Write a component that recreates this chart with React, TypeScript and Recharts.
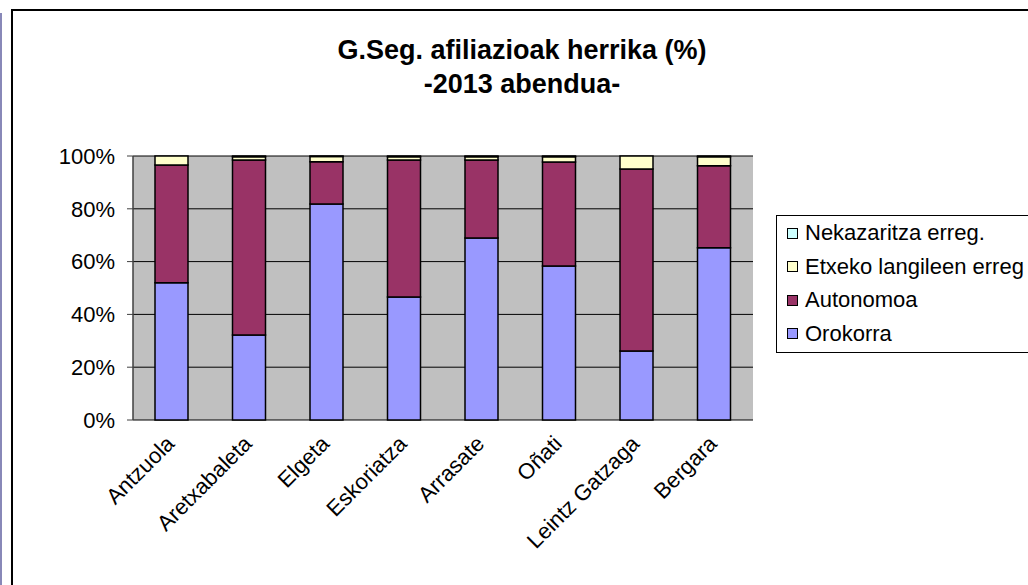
import { BarChart, Bar, XAxis, YAxis, CartesianGrid } from "recharts";

// herriak eta sektoreak (%), 2013 abendua
const herriak = ["Antzuola", "Aretxabaleta", "Elgeta", "Eskoriatza", "Arrasate", "Oñati", "Leintz Gatzaga", "Bergara"];
const orokorra = [52.0, 32.2, 81.8, 46.6, 68.9, 58.3, 26.1, 65.2];
const autonomoa = [44.6, 66.3, 16.0, 51.9, 29.6, 39.4, 69.0, 31.1];
const etxeko = [3.4, 1.2, 2.0, 1.2, 1.2, 2.0, 4.9, 3.4];
const nekazaritza = [0.0, 0.3, 0.2, 0.3, 0.3, 0.3, 0.0, 0.3];
const yTicks = [0, 0.2, 0.4, 0.6, 0.8, 1];
const edgeTicks = [0, 1, 2, 3, 4, 5, 6, 7, 8];

const series = [
  { key: "orokorra", name: "Orokorra", color: "#9999FF", values: orokorra },
  { key: "autonomoa", name: "Autonomoa", color: "#993366", values: autonomoa },
  { key: "etxeko", name: "Etxeko langileen erreg", color: "#FFFFCC", values: etxeko },
  { key: "nekazaritza", name: "Nekazaritza erreg.", color: "#CCFFFF", values: nekazaritza },
];

const data = herriak.map((herria, i) => {
  const row: Record<string, string | number> = { herria, idx: i + 0.5 };
  series.forEach((s) => (row[s.key] = s.values[i]));
  return row;
});

const FONT = '"Liberation Sans", Arial, sans-serif';

function HerriTick({ x, y, payload }: { x?: number; y?: number; payload?: { value: string } }) {
  return (
    <g transform={`translate(${(x ?? 0) + 4},${(y ?? 0) + 17})`}>
      <text textAnchor="end" transform="rotate(-45)" fontSize={22} fontFamily={FONT} fill="#000">
        {payload?.value}
      </text>
    </g>
  );
}

export default function App() {
  return (
    <div style={{ position: "absolute", left: 0, top: 0, width: 1028, height: 585, overflow: "hidden", background: "#fff", fontFamily: FONT }}>
      <div style={{ position: "absolute", left: 0, top: 13, width: 2, height: 600, background: "#8888B8" }} />
      <div style={{ position: "absolute", left: 11, top: 9, width: 1100, height: 700, border: "2px solid #000" }} />
      <div style={{ position: "absolute", left: 0, top: 33, width: 1044, textAlign: "center", fontWeight: "bold", fontSize: 27, lineHeight: "34px" }}>
        G.Seg. afiliazioak herrika (%)
        <br />
        -2013 abendua-
      </div>
      <div style={{ position: "absolute", left: 0, top: 0 }}>
        <BarChart
          width={1028}
          height={585}
          data={data}
          stackOffset="expand"
          barSize={33}
          margin={{ top: 156, right: 275, bottom: 65, left: 73 }}
        >
          <CartesianGrid vertical={false} fill="#C0C0C0" stroke="#000" horizontalValues={yTicks} />
          <XAxis xAxisId="edges" type="number" dataKey="idx" domain={[0, 8]} ticks={edgeTicks} height={0}
            tick={false} tickSize={6} axisLine={{ stroke: "#000", strokeWidth: 1.5 }} tickLine={{ stroke: "#000" }} />
          <XAxis xAxisId="top" orientation="top" type="number" dataKey="idx" domain={[0, 8]} height={0}
            tick={false} tickLine={false} axisLine={{ stroke: "#808080", strokeWidth: 1.5 }} />
          <XAxis dataKey="herria" height={100} axisLine={false} tickLine={false} interval={0} tick={<HerriTick />} />
          <YAxis width={60} ticks={yTicks} domain={[0, 1]} tickSize={6} tickMargin={12}
            tickFormatter={(v: number) => `${Math.round(v * 100)}%`}
            tick={{ fill: "#000", fontSize: 22, fontFamily: FONT }}
            axisLine={{ stroke: "#404040", strokeWidth: 1.5 }} tickLine={{ stroke: "#404040" }} />
          <YAxis yAxisId="right" orientation="right" width={0} domain={[0, 1]} tick={false} tickLine={false}
            axisLine={{ stroke: "#808080", strokeWidth: 1.5 }} />
          {series.map((s) => (
            <Bar key={s.key} dataKey={s.key} name={s.name} stackId="a" fill={s.color}
              stroke="#000" strokeWidth={1.5} isAnimationActive={false} />
          ))}
        </BarChart>
      </div>
      <div style={{ position: "absolute", left: 776, top: 215, width: 300, height: 136, border: "1px solid #000", background: "#fff" }}>
        {[...series].reverse().map((s, i) => (
          <div key={s.key} style={{ position: "absolute", left: 10, top: 2 + i * 33.5, height: 30, display: "flex", alignItems: "center", fontSize: 22, whiteSpace: "nowrap" }}>
            <span style={{ display: "inline-block", width: 9, height: 9, background: s.color, border: "1px solid #000", marginRight: 7 }} />
            {s.name}
          </div>
        ))}
      </div>
    </div>
  );
}
